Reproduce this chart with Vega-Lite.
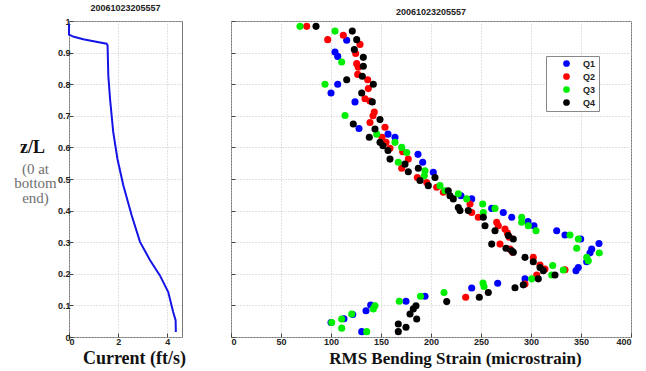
{
  "$schema": "https://vega.github.io/schema/vega-lite/v6.json",
  "padding": {"left": 13, "top": 3, "right": 0, "bottom": 0},
  "spacing": 49,
  "bounds": "flush",
  "datasets": {
    "current": [
      {"current": 0, "z": 0.99}, {"current": 0, "z": 0.957}, {"current": 0.2, "z": 0.95}, {"current": 0.58, "z": 0.942},
      {"current": 1.0, "z": 0.936}, {"current": 1.53, "z": 0.928}, {"current": 1.57, "z": 0.923}, {"current": 1.6, "z": 0.828},
      {"current": 1.67, "z": 0.754}, {"current": 1.8, "z": 0.649}, {"current": 1.97, "z": 0.564}, {"current": 2.21, "z": 0.48},
      {"current": 2.55, "z": 0.385}, {"current": 2.89, "z": 0.301}, {"current": 3.3, "z": 0.243}, {"current": 3.7, "z": 0.195},
      {"current": 4.04, "z": 0.142}, {"current": 4.24, "z": 0.079}, {"current": 4.34, "z": 0.053}, {"current": 4.35, "z": 0.016}
    ],
    "strain": [
      {"q":"Q1","s":115.7,"z":0.939},{"q":"Q1","s":104,"z":0.902},{"q":"Q1","s":106.7,"z":0.888},{"q":"Q1","s":106.7,"z":0.8},
      {"q":"Q1","s":100,"z":0.772},{"q":"Q1","s":124,"z":0.744},{"q":"Q1","s":128,"z":0.66},{"q":"Q1","s":157,"z":0.642},
      {"q":"Q1","s":164,"z":0.632},{"q":"Q1","s":187,"z":0.578},{"q":"Q1","s":191.7,"z":0.553},{"q":"Q1","s":202.3,"z":0.521},
      {"q":"Q1","s":230,"z":0.447},{"q":"Q1","s":240.7,"z":0.437},{"q":"Q1","s":260.7,"z":0.407},{"q":"Q1","s":272.3,"z":0.394},
      {"q":"Q1","s":280.7,"z":0.379},{"q":"Q1","s":297,"z":0.365},{"q":"Q1","s":303,"z":0.352},{"q":"Q1","s":325.7,"z":0.336},
      {"q":"Q1","s":334,"z":0.323},{"q":"Q1","s":349.7,"z":0.31},{"q":"Q1","s":368,"z":0.296},{"q":"Q1","s":360.7,"z":0.278},
      {"q":"Q1","s":359,"z":0.266},{"q":"Q1","s":355.7,"z":0.238},{"q":"Q1","s":347.3,"z":0.22},{"q":"Q1","s":345,"z":0.21},
      {"q":"Q1","s":294,"z":0.184},{"q":"Q1","s":266.7,"z":0.17},{"q":"Q1","s":240.7,"z":0.155},{"q":"Q1","s":194,"z":0.129},
      {"q":"Q1","s":175,"z":0.113},{"q":"Q1","s":139.7,"z":0.101},{"q":"Q1","s":135,"z":0.083},{"q":"Q1","s":121.7,"z":0.071},
      {"q":"Q1","s":113,"z":0.058},{"q":"Q1","s":100,"z":0.046},{"q":"Q1","s":130.7,"z":0.017},

      {"q":"Q2","s":75.7,"z":0.983},{"q":"Q2","s":112.3,"z":0.955},{"q":"Q2","s":96.7,"z":0.941},{"q":"Q2","s":129,"z":0.926},
      {"q":"Q2","s":124.7,"z":0.897},{"q":"Q2","s":125.7,"z":0.865},{"q":"Q2","s":127.3,"z":0.854},{"q":"Q2","s":126.7,"z":0.831},
      {"q":"Q2","s":136.7,"z":0.814},{"q":"Q2","s":137.3,"z":0.786},{"q":"Q2","s":134,"z":0.754},{"q":"Q2","s":139,"z":0.747},
      {"q":"Q2","s":143.3,"z":0.712},{"q":"Q2","s":142,"z":0.7},{"q":"Q2","s":139,"z":0.679},{"q":"Q2","s":154,"z":0.664},
      {"q":"Q2","s":151,"z":0.632},{"q":"Q2","s":155,"z":0.616},{"q":"Q2","s":159,"z":0.597},{"q":"Q2","s":171.7,"z":0.586},
      {"q":"Q2","s":177.3,"z":0.563},{"q":"Q2","s":170.7,"z":0.534},{"q":"Q2","s":186.3,"z":0.505},{"q":"Q2","s":195.7,"z":0.489},
      {"q":"Q2","s":205.7,"z":0.474},{"q":"Q2","s":212.3,"z":0.458},{"q":"Q2","s":239,"z":0.421},{"q":"Q2","s":240.7,"z":0.394},
      {"q":"Q2","s":247.3,"z":0.379},{"q":"Q2","s":265.7,"z":0.363},{"q":"Q2","s":267.3,"z":0.352},{"q":"Q2","s":274,"z":0.342},
      {"q":"Q2","s":276.3,"z":0.329},{"q":"Q2","s":278.3,"z":0.316},{"q":"Q2","s":269,"z":0.294},{"q":"Q2","s":279,"z":0.278},
      {"q":"Q2","s":281.7,"z":0.268},{"q":"Q2","s":302.3,"z":0.252},{"q":"Q2","s":309,"z":0.228},{"q":"Q2","s":314,"z":0.215},
      {"q":"Q2","s":334,"z":0.213},{"q":"Q2","s":305.7,"z":0.196},{"q":"Q2","s":294,"z":0.168},{"q":"Q2","s":234.7,"z":0.126},

      {"q":"Q3","s":69,"z":0.983},{"q":"Q3","s":104,"z":0.968},{"q":"Q3","s":110.7,"z":0.87},{"q":"Q3","s":94,"z":0.8},
      {"q":"Q3","s":114,"z":0.701},{"q":"Q3","s":145.7,"z":0.642},{"q":"Q3","s":164,"z":0.616},{"q":"Q3","s":170.7,"z":0.6},
      {"q":"Q3","s":175.7,"z":0.584},{"q":"Q3","s":167.3,"z":0.553},{"q":"Q3","s":194,"z":0.526},{"q":"Q3","s":193.3,"z":0.51},
      {"q":"Q3","s":209,"z":0.479},{"q":"Q3","s":214,"z":0.463},{"q":"Q3","s":227.3,"z":0.453},{"q":"Q3","s":235.7,"z":0.437},
      {"q":"Q3","s":251.7,"z":0.421},{"q":"Q3","s":252.3,"z":0.394},{"q":"Q3","s":264,"z":0.407},{"q":"Q3","s":290.7,"z":0.379},
      {"q":"Q3","s":290.7,"z":0.363},{"q":"Q3","s":297.3,"z":0.352},{"q":"Q3","s":305,"z":0.336},{"q":"Q3","s":339,"z":0.323},
      {"q":"Q3","s":347.3,"z":0.31},{"q":"Q3","s":345.7,"z":0.281},{"q":"Q3","s":368.3,"z":0.266},{"q":"Q3","s":355.7,"z":0.252},
      {"q":"Q3","s":357.3,"z":0.241},{"q":"Q3","s":321.7,"z":0.226},{"q":"Q3","s":332.3,"z":0.212},{"q":"Q3","s":320.7,"z":0.196},
      {"q":"Q3","s":300.7,"z":0.184},{"q":"Q3","s":252,"z":0.171},{"q":"Q3","s":253,"z":0.16},{"q":"Q3","s":213,"z":0.141},
      {"q":"Q3","s":189.5,"z":0.129},{"q":"Q3","s":168.3,"z":0.113},{"q":"Q3","s":144,"z":0.099},{"q":"Q3","s":142.3,"z":0.089},
      {"q":"Q3","s":120.7,"z":0.073},{"q":"Q3","s":110.7,"z":0.057},{"q":"Q3","s":100.7,"z":0.046},{"q":"Q3","s":110.7,"z":0.028},
      {"q":"Q3","s":135.7,"z":0.017},

      {"q":"Q4","s":85,"z":0.983},{"q":"Q4","s":121.3,"z":0.968},{"q":"Q4","s":125.7,"z":0.941},{"q":"Q4","s":123.3,"z":0.91},
      {"q":"Q4","s":132.3,"z":0.885},{"q":"Q4","s":132.3,"z":0.857},{"q":"Q4","s":131.3,"z":0.825},{"q":"Q4","s":115.7,"z":0.814},
      {"q":"Q4","s":142.3,"z":0.8},{"q":"Q4","s":130.7,"z":0.772},{"q":"Q4","s":141.3,"z":0.744},{"q":"Q4","s":149,"z":0.688},
      {"q":"Q4","s":122.3,"z":0.674},{"q":"Q4","s":144,"z":0.658},{"q":"Q4","s":138.3,"z":0.632},{"q":"Q4","s":149,"z":0.616},
      {"q":"Q4","s":152,"z":0.605},{"q":"Q4","s":157,"z":0.59},{"q":"Q4","s":159,"z":0.563},{"q":"Q4","s":174,"z":0.547},
      {"q":"Q4","s":187.3,"z":0.534},{"q":"Q4","s":177.3,"z":0.523},{"q":"Q4","s":204,"z":0.505},{"q":"Q4","s":189,"z":0.495},
      {"q":"Q4","s":197.3,"z":0.479},{"q":"Q4","s":217.3,"z":0.463},{"q":"Q4","s":219,"z":0.447},{"q":"Q4","s":222.3,"z":0.437},
      {"q":"Q4","s":227.3,"z":0.41},{"q":"Q4","s":229,"z":0.4},{"q":"Q4","s":237.3,"z":0.4},{"q":"Q4","s":252.3,"z":0.379},
      {"q":"Q4","s":254,"z":0.352},{"q":"Q4","s":264,"z":0.336},{"q":"Q4","s":277.3,"z":0.321},{"q":"Q4","s":282.3,"z":0.31},
      {"q":"Q4","s":260.7,"z":0.294},{"q":"Q4","s":275,"z":0.281},{"q":"Q4","s":280.7,"z":0.273},{"q":"Q4","s":282.3,"z":0.268},
      {"q":"Q4","s":294,"z":0.252},{"q":"Q4","s":302.3,"z":0.238},{"q":"Q4","s":309,"z":0.22},{"q":"Q4","s":312.3,"z":0.21},
      {"q":"Q4","s":324,"z":0.196},{"q":"Q4","s":307.3,"z":0.184},{"q":"Q4","s":292.3,"z":0.165},{"q":"Q4","s":284,"z":0.156},
      {"q":"Q4","s":257.3,"z":0.141},{"q":"Q4","s":248.3,"z":0.126},{"q":"Q4","s":215.7,"z":0.112},{"q":"Q4","s":185,"z":0.099},
      {"q":"Q4","s":182.3,"z":0.089},{"q":"Q4","s":179,"z":0.073},{"q":"Q4","s":185.7,"z":0.057},{"q":"Q4","s":167.3,"z":0.041},
      {"q":"Q4","s":175,"z":0.031},{"q":"Q4","s":167.3,"z":0.017}
    ]
  },
  "hconcat": [
    {
      "width": 113,
      "height": 316,
      "title": {"text": "20061023205557"},
      "data": {"name": "current"},
      "layer": [
        {
          "mark": {"type": "line", "color": "#1414e6", "strokeWidth": 2},
          "encoding": {
            "x": {"field": "current", "type": "quantitative", "scale": {"domain": [0, 4.6], "nice": false},
                  "axis": {"values": [0, 2, 4], "title": "Current (ft/s)", "titleX": 65, "titleY": 21,
                           "titleBaseline": "middle", "titleAlign": "center", "titleFontSize": 18}},
            "y": {"field": "z", "type": "quantitative", "scale": {"domain": [0, 1], "nice": false},
                  "axis": {"orient": "left", "values": [0, 0.1, 0.2, 0.3, 0.4, 0.5, 0.6, 0.7, 0.8, 0.9, 1], "format": ".1~f",
                           "labelPadding": 3,
                           "title": "z/L", "titleAngle": 0, "titleX": -37, "titleY": 126, "titleAlign": "center",
                           "titleBaseline": "middle", "titleFontSize": 18}},
            "order": {"field": "z", "type": "quantitative"}
          }
        },
        {
          "mark": {"type": "line", "opacity": 0},
          "encoding": {
            "y": {"field": "z", "type": "quantitative",
                  "axis": {"orient": "right", "labels": false, "ticks": false, "grid": false, "domain": false,
                           "title": ["(0 at", "bottom", "end)"], "titleAngle": 0, "titleX": -147, "titleY": 140,
                           "titleAlign": "center", "titleBaseline": "top", "titleFontWeight": "normal",
                           "titleColor": "#707070", "titleFontSize": 15, "titleLineHeight": 14.5}}
          }
        }
      ],
      "resolve": {"axis": {"y": "independent"}}
    },
    {
      "width": 400,
      "height": 316,
      "title": {"text": "20061023205557"},
      "data": {"name": "strain"},
      "mark": {"type": "point", "shape": "circle", "filled": true, "size": 50, "opacity": 1},
      "encoding": {
        "x": {"field": "s", "type": "quantitative", "scale": {"domain": [0, 400], "nice": false},
              "axis": {"values": [0, 50, 100, 150, 200, 250, 300, 350, 400], "title": "RMS Bending Strain (microstrain)",
                       "titleX": 224, "titleY": 21, "titleBaseline": "middle", "titleAlign": "center"}},
        "y": {"field": "z", "type": "quantitative", "scale": {"domain": [0, 1], "nice": false},
              "axis": {"values": [0, 0.1, 0.2, 0.3, 0.4, 0.5, 0.6, 0.7, 0.8, 0.9, 1], "labels": false, "title": null}},
        "color": {"field": "q", "type": "nominal",
                  "scale": {"domain": ["Q1", "Q2", "Q3", "Q4"], "range": ["#0000ff", "#ff0000", "#00ee00", "#000000"]},
                  "legend": {"title": null, "orient": "none", "legendX": 477, "legendY": 35, "strokeColor": "#888",
                             "fillColor": "#ffffff", "padding": 3, "symbolType": "circle", "symbolSize": 45,
                             "labelFont": "Liberation Sans", "labelFontWeight": "bold", "labelFontSize": 9,
                             "labelColor": "#222", "symbolOffset": 13, "labelOffset": 12, "rowPadding": 3}}
      }
    }
  ],
  "config": {
    "view": {"stroke": "#777", "strokeWidth": 1},
    "axis": {"grid": true, "gridColor": "#c4c4c4", "gridDash": [1, 2], "domain": false,
             "tickColor": "#444", "tickSize": -4, "labelPadding": 4,
             "labelFont": "Liberation Sans", "labelFontWeight": "bold", "labelFontSize": 9, "labelColor": "#222",
             "titleFont": "Liberation Serif", "titleFontWeight": "bold", "titleFontSize": 17, "titleColor": "#111"},
    "title": {"font": "Liberation Sans", "fontWeight": "bold", "fontSize": 9, "color": "#222", "offset": 4, "anchor": "middle"}
  }
}
